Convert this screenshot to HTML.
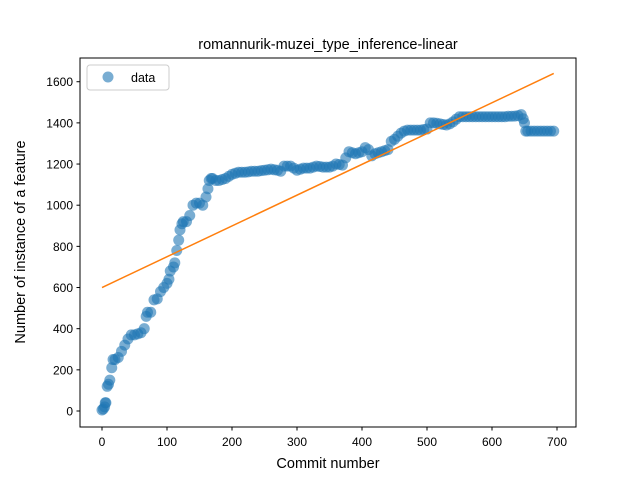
<!DOCTYPE html>
<html><head><meta charset="utf-8"><style>
body{margin:0;background:#fff}
svg{font-family:"Liberation Sans","DejaVu Sans",sans-serif}
</style></head><body>
<svg id="chart" width="640" height="480" viewBox="0 0 640 480" xmlns="http://www.w3.org/2000/svg">
<rect width="640" height="480" fill="#fff"/>
<text x="328" y="49" font-size="14.5" text-anchor="middle">romannurik-muzei_type_inference-linear</text>
<g id="marks"></g>
<rect x="80" y="58" width="496" height="369" fill="none" stroke="#000" stroke-width="1"/>
<g id="axes"></g>
<text x="328" y="468" font-size="14.5" text-anchor="middle">Commit number</text>
<text transform="translate(25,242) rotate(-90)" font-size="14.5" text-anchor="middle">Number of instance of a feature</text>
<g>
<rect x="87" y="65" width="82" height="25" rx="3" fill="#fff" fill-opacity="0.8" stroke="#ccc"/>
<circle cx="108" cy="77" r="5.5" fill="#1f77b4" fill-opacity="0.6"/>
<text x="131" y="82" font-size="12.5">data</text>
</g>
</svg>
<script>
const commits=[0,2,4,5,6,8,10,12,15,17,20,25,30,35,40,45,50,55,60,65,68,70,75,80,85,90,95,100,103,105,110,112,115,118,120,123,125,130,135,140,145,150,155,160,163,165,168,170,175,180,185,190,195,200,205,210,215,220,225,230,235,240,245,250,255,260,265,270,275,280,285,290,295,300,305,310,315,320,325,330,335,340,345,350,355,360,365,370,375,380,385,390,395,400,405,410,415,420,425,430,435,440,445,450,455,460,465,470,475,480,485,490,495,500,505,510,515,520,525,530,535,540,545,550,555,560,565,570,575,580,585,590,595,600,605,610,615,620,625,630,635,640,645,648,650,652,655,660,665,670,675,680,685,690,695];
const counts=[5,10,20,40,40,120,130,150,210,250,250,260,290,320,350,370,370,375,380,400,460,480,480,540,545,580,600,620,640,680,700,720,780,830,880,910,920,920,950,1000,1010,1010,1000,1040,1080,1120,1130,1130,1120,1120,1125,1130,1140,1150,1155,1160,1160,1160,1162,1165,1165,1165,1168,1170,1172,1175,1172,1170,1165,1190,1190,1190,1180,1170,1175,1180,1180,1180,1185,1190,1188,1185,1185,1185,1190,1200,1198,1195,1230,1260,1255,1250,1255,1260,1280,1270,1240,1250,1255,1260,1265,1270,1310,1320,1335,1350,1360,1365,1365,1365,1365,1365,1368,1370,1400,1400,1398,1395,1392,1390,1395,1405,1418,1430,1430,1430,1430,1430,1430,1430,1430,1430,1430,1430,1430,1430,1430,1430,1432,1432,1433,1435,1440,1420,1400,1360,1360,1360,1360,1360,1360,1360,1360,1360,1360];
const fitX=[0,695];
const fitY=[600,1640];
const xTicks=[0,100,200,300,400,500,600,700];
const yTicks=[0,200,400,600,800,1000,1200,1400,1600];
const NS="http://www.w3.org/2000/svg";
function sx(v){return 102+v*0.65;}
function sy(v){return 411-v*0.2058;}
const marks=document.getElementById('marks');
const axes=document.getElementById('axes');
function mk(tag,attrs,parent){const e=document.createElementNS(NS,tag);for(const k in attrs)e.setAttribute(k,attrs[k]);parent.appendChild(e);return e;}
for(let i=0;i<commits.length;i++){
  const c=mk('circle',{cx:sx(commits[i]),cy:sy(counts[i]),r:5.5,fill:'#1f77b4','fill-opacity':0.6},marks);
  
  
}
const fit=mk('line',{x1:sx(fitX[0]),y1:sy(fitY[0]),x2:sx(fitX[1]),y2:sy(fitY[1]),stroke:'#ff7f0e','stroke-width':1.5},marks);


for(const t of xTicks){
  const l=mk('line',{x1:sx(t),x2:sx(t),y1:427,y2:430.5,stroke:'#000'},axes);
  
  
  const tx=mk('text',{x:sx(t),y:446,'font-size':12,'text-anchor':'middle'},axes);
  tx.textContent=t;
  
  
}
for(const t of yTicks){
  const l=mk('line',{x1:76.5,x2:80,y1:sy(t),y2:sy(t),stroke:'#000'},axes);
  
  
  const tx=mk('text',{x:73,y:sy(t)+4.5,'font-size':12,'text-anchor':'end'},axes);
  tx.textContent=t;
  
  
}
</script>
</body></html>
